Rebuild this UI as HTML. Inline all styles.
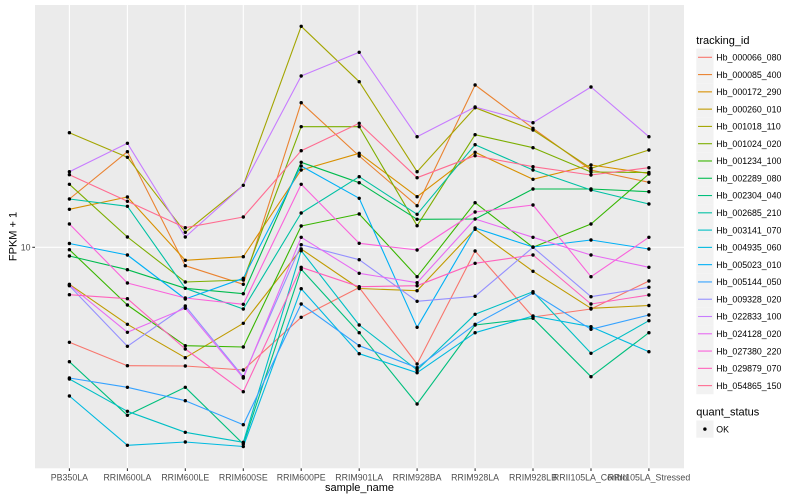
<!DOCTYPE html>
<html>
<head>
<meta charset="utf-8">
<style>
  html,body{margin:0;padding:0;background:#fff;}
  svg{display:block;}
  text{font-family:"Liberation Sans",Arial,sans-serif;}
</style>
</head>
<body>
<svg width="800" height="500" viewBox="0 0 800 500" xmlns="http://www.w3.org/2000/svg">
  <rect x="0" y="0" width="800" height="500" fill="#ffffff"/>
  <!-- panel -->
  <rect x="35" y="5" width="649" height="463.3" fill="#EBEBEB"/>
  <!-- gridlines -->
  <g stroke="#ffffff" stroke-width="1.1">
    <line x1="35" y1="247.3" x2="684" y2="247.3"/>
    <line x1="69.4" y1="5" x2="69.4" y2="468.3"/>
    <line x1="127.4" y1="5" x2="127.4" y2="468.3"/>
    <line x1="185.3" y1="5" x2="185.3" y2="468.3"/>
    <line x1="243.3" y1="5" x2="243.3" y2="468.3"/>
    <line x1="301.2" y1="5" x2="301.2" y2="468.3"/>
    <line x1="359.2" y1="5" x2="359.2" y2="468.3"/>
    <line x1="417.1" y1="5" x2="417.1" y2="468.3"/>
    <line x1="475.1" y1="5" x2="475.1" y2="468.3"/>
    <line x1="533" y1="5" x2="533" y2="468.3"/>
    <line x1="591" y1="5" x2="591" y2="468.3"/>
    <line x1="648.9" y1="5" x2="648.9" y2="468.3"/>
  </g>
  <!-- series lines -->
  <g fill="none" stroke-width="1.1" stroke-linejoin="round">
    <polyline stroke="#F8766D" points="69.4,342.3 127.4,365.7 185.3,366 243.3,370 301.2,317.3 359.2,287.5 417.1,364 475.1,251 533,317 591,309 648.9,281"/>
    <polyline stroke="#EA8331" points="69.4,199 127.4,151.7 185.3,265.7 243.3,284.3 301.2,102.7 359.2,156 417.1,205.7 475.1,85 533,128.3 591,170 648.9,182.3"/>
    <polyline stroke="#D89000" points="69.4,209.3 127.4,197 185.3,260.3 243.3,256.7 301.2,170 359.2,153.3 417.1,196.7 475.1,152.3 533,179.3 591,165 648.9,173.5"/>
    <polyline stroke="#C09B00" points="69.4,284.3 127.4,324.3 185.3,357.7 243.3,323.3 301.2,249 359.2,288.5 417.1,290.7 475.1,229.3 533,271.3 591,308.3 648.9,305.5"/>
    <polyline stroke="#A3A500" points="69.4,132.7 127.4,157.3 185.3,232.3 243.3,185.3 301.2,26.3 359.2,81.7 417.1,171.7 475.1,107.7 533,130 591,168.3 648.9,150"/>
    <polyline stroke="#7CAE00" points="69.4,184.3 127.4,237 185.3,282 243.3,280 301.2,126.7 359.2,126.7 417.1,225.7 475.1,134.7 533,147.7 591,172 648.9,172.5"/>
    <polyline stroke="#39B600" points="69.4,249.7 127.4,305 185.3,345.7 243.3,347 301.2,226 359.2,214 417.1,276.7 475.1,202.7 533,247.3 591,224 648.9,174"/>
    <polyline stroke="#00BB4E" points="69.4,256 127.4,269.7 185.3,288.3 243.3,293.7 301.2,162.3 359.2,182.7 417.1,219.3 475.1,219 533,189 591,189 648.9,191.7"/>
    <polyline stroke="#00BF7D" points="69.4,361.7 127.4,415.3 185.3,387.3 243.3,444 301.2,269.3 359.2,332.7 417.1,404 475.1,325 533,318.3 591,376.7 648.9,332.7"/>
    <polyline stroke="#00C1A3" points="69.4,199 127.4,206.3 185.3,288.3 243.3,309 301.2,213 359.2,176.7 417.1,214.3 475.1,144.7 533,170 591,190 648.9,204"/>
    <polyline stroke="#00BFC4" points="69.4,379 127.4,411.3 185.3,432.3 243.3,442.3 301.2,250.7 359.2,325 417.1,370 475.1,314.3 533,291.7 591,353.3 648.9,320.7"/>
    <polyline stroke="#00BAE0" points="69.4,396 127.4,445.3 185.3,442 243.3,446.5 301.2,288.7 359.2,353.7 417.1,372.7 475.1,332.7 533,316 591,326.7 648.9,351.7"/>
    <polyline stroke="#00B0F6" points="69.4,243.5 127.4,255 185.3,299 243.3,278.3 301.2,166 359.2,198.3 417.1,327.3 475.1,228 533,247 591,240 648.9,249"/>
    <polyline stroke="#35A2FF" points="69.4,378 127.4,387.3 185.3,400.7 243.3,424.7 301.2,304 359.2,345.7 417.1,367.7 475.1,324.3 533,293 591,329.3 648.9,315"/>
    <polyline stroke="#9590FF" points="69.4,285.7 127.4,346.3 185.3,306 243.3,376.7 301.2,244.7 359.2,259.7 417.1,301.3 475.1,296.3 533,247.3 591,296.7 648.9,287.3"/>
    <polyline stroke="#C77CFF" points="69.4,171.7 127.4,143.3 185.3,237 243.3,185.3 301.2,76 359.2,52.3 417.1,136.7 475.1,107 533,122.7 591,87 648.9,136.7"/>
    <polyline stroke="#E76BF3" points="69.4,285 127.4,332.3 185.3,308.3 243.3,378 301.2,237.3 359.2,273.3 417.1,282.7 475.1,219 533,237.3 591,255 648.9,267.3"/>
    <polyline stroke="#FA62DB" points="69.4,224 127.4,283 185.3,298 243.3,304.3 301.2,184.3 359.2,243.3 417.1,250 475.1,212 533,205 591,276.7 648.9,237.3"/>
    <polyline stroke="#FF62BC" points="69.4,294.7 127.4,298.7 185.3,349 243.3,391.7 301.2,267.3 359.2,286.7 417.1,285.7 475.1,263.3 533,255 591,304 648.9,295"/>
    <polyline stroke="#FF6C91" points="69.4,174.7 127.4,201.3 185.3,227.7 243.3,217 301.2,150.7 359.2,123.3 417.1,177.7 475.1,155.7 533,166.7 591,175 648.9,167.7"/>
  </g>
  <!-- points -->
  <g fill="#000000">
    <!-- col1 -->
    <circle cx="69.4" cy="342.3" r="1.7"/><circle cx="69.4" cy="199" r="1.7"/><circle cx="69.4" cy="209.3" r="1.7"/><circle cx="69.4" cy="284.3" r="1.7"/><circle cx="69.4" cy="132.7" r="1.7"/><circle cx="69.4" cy="184.3" r="1.7"/><circle cx="69.4" cy="249.7" r="1.7"/><circle cx="69.4" cy="256" r="1.7"/><circle cx="69.4" cy="361.7" r="1.7"/><circle cx="69.4" cy="379" r="1.7"/><circle cx="69.4" cy="396" r="1.7"/><circle cx="69.4" cy="243.5" r="1.7"/><circle cx="69.4" cy="378" r="1.7"/><circle cx="69.4" cy="285.7" r="1.7"/><circle cx="69.4" cy="171.7" r="1.7"/><circle cx="69.4" cy="285" r="1.7"/><circle cx="69.4" cy="224" r="1.7"/><circle cx="69.4" cy="294.7" r="1.7"/><circle cx="69.4" cy="174.7" r="1.7"/>
    <!-- col2 -->
    <circle cx="127.4" cy="365.7" r="1.7"/><circle cx="127.4" cy="151.7" r="1.7"/><circle cx="127.4" cy="197" r="1.7"/><circle cx="127.4" cy="324.3" r="1.7"/><circle cx="127.4" cy="157.3" r="1.7"/><circle cx="127.4" cy="237" r="1.7"/><circle cx="127.4" cy="305" r="1.7"/><circle cx="127.4" cy="269.7" r="1.7"/><circle cx="127.4" cy="415.3" r="1.7"/><circle cx="127.4" cy="206.3" r="1.7"/><circle cx="127.4" cy="411.3" r="1.7"/><circle cx="127.4" cy="445.3" r="1.7"/><circle cx="127.4" cy="255" r="1.7"/><circle cx="127.4" cy="387.3" r="1.7"/><circle cx="127.4" cy="346.3" r="1.7"/><circle cx="127.4" cy="143.3" r="1.7"/><circle cx="127.4" cy="332.3" r="1.7"/><circle cx="127.4" cy="283" r="1.7"/><circle cx="127.4" cy="298.7" r="1.7"/><circle cx="127.4" cy="201.3" r="1.7"/>
    <!-- col3 -->
    <circle cx="185.3" cy="366" r="1.7"/><circle cx="185.3" cy="265.7" r="1.7"/><circle cx="185.3" cy="260.3" r="1.7"/><circle cx="185.3" cy="357.7" r="1.7"/><circle cx="185.3" cy="232.3" r="1.7"/><circle cx="185.3" cy="282" r="1.7"/><circle cx="185.3" cy="345.7" r="1.7"/><circle cx="185.3" cy="288.3" r="1.7"/><circle cx="185.3" cy="387.3" r="1.7"/><circle cx="185.3" cy="432.3" r="1.7"/><circle cx="185.3" cy="442" r="1.7"/><circle cx="185.3" cy="299" r="1.7"/><circle cx="185.3" cy="400.7" r="1.7"/><circle cx="185.3" cy="306" r="1.7"/><circle cx="185.3" cy="237" r="1.7"/><circle cx="185.3" cy="308.3" r="1.7"/><circle cx="185.3" cy="298" r="1.7"/><circle cx="185.3" cy="349" r="1.7"/><circle cx="185.3" cy="227.7" r="1.7"/>
    <!-- col4 -->
    <circle cx="243.3" cy="370" r="1.7"/><circle cx="243.3" cy="284.3" r="1.7"/><circle cx="243.3" cy="256.7" r="1.7"/><circle cx="243.3" cy="323.3" r="1.7"/><circle cx="243.3" cy="185.3" r="1.7"/><circle cx="243.3" cy="280" r="1.7"/><circle cx="243.3" cy="347" r="1.7"/><circle cx="243.3" cy="293.7" r="1.7"/><circle cx="243.3" cy="444" r="1.7"/><circle cx="243.3" cy="309" r="1.7"/><circle cx="243.3" cy="442.3" r="1.7"/><circle cx="243.3" cy="446.5" r="1.7"/><circle cx="243.3" cy="278.3" r="1.7"/><circle cx="243.3" cy="424.7" r="1.7"/><circle cx="243.3" cy="376.7" r="1.7"/><circle cx="243.3" cy="378" r="1.7"/><circle cx="243.3" cy="304.3" r="1.7"/><circle cx="243.3" cy="391.7" r="1.7"/><circle cx="243.3" cy="217" r="1.7"/>
    <!-- col5 -->
    <circle cx="301.2" cy="317.3" r="1.7"/><circle cx="301.2" cy="102.7" r="1.7"/><circle cx="301.2" cy="170" r="1.7"/><circle cx="301.2" cy="249" r="1.7"/><circle cx="301.2" cy="26.3" r="1.7"/><circle cx="301.2" cy="126.7" r="1.7"/><circle cx="301.2" cy="226" r="1.7"/><circle cx="301.2" cy="162.3" r="1.7"/><circle cx="301.2" cy="269.3" r="1.7"/><circle cx="301.2" cy="213" r="1.7"/><circle cx="301.2" cy="250.7" r="1.7"/><circle cx="301.2" cy="288.7" r="1.7"/><circle cx="301.2" cy="166" r="1.7"/><circle cx="301.2" cy="304" r="1.7"/><circle cx="301.2" cy="244.7" r="1.7"/><circle cx="301.2" cy="76" r="1.7"/><circle cx="301.2" cy="237.3" r="1.7"/><circle cx="301.2" cy="184.3" r="1.7"/><circle cx="301.2" cy="267.3" r="1.7"/><circle cx="301.2" cy="150.7" r="1.7"/>
    <!-- col6 -->
    <circle cx="359.2" cy="287.5" r="1.7"/><circle cx="359.2" cy="156" r="1.7"/><circle cx="359.2" cy="153.3" r="1.7"/><circle cx="359.2" cy="288.5" r="1.7"/><circle cx="359.2" cy="81.7" r="1.7"/><circle cx="359.2" cy="126.7" r="1.7"/><circle cx="359.2" cy="214" r="1.7"/><circle cx="359.2" cy="182.7" r="1.7"/><circle cx="359.2" cy="332.7" r="1.7"/><circle cx="359.2" cy="176.7" r="1.7"/><circle cx="359.2" cy="325" r="1.7"/><circle cx="359.2" cy="353.7" r="1.7"/><circle cx="359.2" cy="198.3" r="1.7"/><circle cx="359.2" cy="345.7" r="1.7"/><circle cx="359.2" cy="259.7" r="1.7"/><circle cx="359.2" cy="52.3" r="1.7"/><circle cx="359.2" cy="273.3" r="1.7"/><circle cx="359.2" cy="243.3" r="1.7"/><circle cx="359.2" cy="286.7" r="1.7"/><circle cx="359.2" cy="123.3" r="1.7"/>
    <!-- col7 -->
    <circle cx="417.1" cy="364" r="1.7"/><circle cx="417.1" cy="205.7" r="1.7"/><circle cx="417.1" cy="196.7" r="1.7"/><circle cx="417.1" cy="290.7" r="1.7"/><circle cx="417.1" cy="171.7" r="1.7"/><circle cx="417.1" cy="225.7" r="1.7"/><circle cx="417.1" cy="276.7" r="1.7"/><circle cx="417.1" cy="219.3" r="1.7"/><circle cx="417.1" cy="404" r="1.7"/><circle cx="417.1" cy="214.3" r="1.7"/><circle cx="417.1" cy="370" r="1.7"/><circle cx="417.1" cy="372.7" r="1.7"/><circle cx="417.1" cy="327.3" r="1.7"/><circle cx="417.1" cy="367.7" r="1.7"/><circle cx="417.1" cy="301.3" r="1.7"/><circle cx="417.1" cy="136.7" r="1.7"/><circle cx="417.1" cy="282.7" r="1.7"/><circle cx="417.1" cy="250" r="1.7"/><circle cx="417.1" cy="285.7" r="1.7"/><circle cx="417.1" cy="177.7" r="1.7"/>
    <!-- col8 -->
    <circle cx="475.1" cy="251" r="1.7"/><circle cx="475.1" cy="85" r="1.7"/><circle cx="475.1" cy="152.3" r="1.7"/><circle cx="475.1" cy="229.3" r="1.7"/><circle cx="475.1" cy="107.7" r="1.7"/><circle cx="475.1" cy="134.7" r="1.7"/><circle cx="475.1" cy="202.7" r="1.7"/><circle cx="475.1" cy="219" r="1.7"/><circle cx="475.1" cy="325" r="1.7"/><circle cx="475.1" cy="144.7" r="1.7"/><circle cx="475.1" cy="314.3" r="1.7"/><circle cx="475.1" cy="332.7" r="1.7"/><circle cx="475.1" cy="228" r="1.7"/><circle cx="475.1" cy="324.3" r="1.7"/><circle cx="475.1" cy="296.3" r="1.7"/><circle cx="475.1" cy="107" r="1.7"/><circle cx="475.1" cy="212" r="1.7"/><circle cx="475.1" cy="263.3" r="1.7"/><circle cx="475.1" cy="155.7" r="1.7"/>
    <!-- col9 -->
    <circle cx="533" cy="317" r="1.7"/><circle cx="533" cy="128.3" r="1.7"/><circle cx="533" cy="179.3" r="1.7"/><circle cx="533" cy="271.3" r="1.7"/><circle cx="533" cy="130" r="1.7"/><circle cx="533" cy="147.7" r="1.7"/><circle cx="533" cy="247.3" r="1.7"/><circle cx="533" cy="189" r="1.7"/><circle cx="533" cy="318.3" r="1.7"/><circle cx="533" cy="170" r="1.7"/><circle cx="533" cy="291.7" r="1.7"/><circle cx="533" cy="316" r="1.7"/><circle cx="533" cy="247" r="1.7"/><circle cx="533" cy="293" r="1.7"/><circle cx="533" cy="122.7" r="1.7"/><circle cx="533" cy="237.3" r="1.7"/><circle cx="533" cy="205" r="1.7"/><circle cx="533" cy="255" r="1.7"/><circle cx="533" cy="166.7" r="1.7"/>
    <!-- col10 -->
    <circle cx="591" cy="309" r="1.7"/><circle cx="591" cy="170" r="1.7"/><circle cx="591" cy="165" r="1.7"/><circle cx="591" cy="308.3" r="1.7"/><circle cx="591" cy="168.3" r="1.7"/><circle cx="591" cy="172" r="1.7"/><circle cx="591" cy="224" r="1.7"/><circle cx="591" cy="189" r="1.7"/><circle cx="591" cy="376.7" r="1.7"/><circle cx="591" cy="190" r="1.7"/><circle cx="591" cy="353.3" r="1.7"/><circle cx="591" cy="326.7" r="1.7"/><circle cx="591" cy="240" r="1.7"/><circle cx="591" cy="329.3" r="1.7"/><circle cx="591" cy="296.7" r="1.7"/><circle cx="591" cy="87" r="1.7"/><circle cx="591" cy="255" r="1.7"/><circle cx="591" cy="276.7" r="1.7"/><circle cx="591" cy="304" r="1.7"/><circle cx="591" cy="175" r="1.7"/>
    <!-- col11 -->
    <circle cx="648.9" cy="281" r="1.7"/><circle cx="648.9" cy="182.3" r="1.7"/><circle cx="648.9" cy="173.5" r="1.7"/><circle cx="648.9" cy="305.5" r="1.7"/><circle cx="648.9" cy="150" r="1.7"/><circle cx="648.9" cy="172.5" r="1.7"/><circle cx="648.9" cy="174" r="1.7"/><circle cx="648.9" cy="191.7" r="1.7"/><circle cx="648.9" cy="332.7" r="1.7"/><circle cx="648.9" cy="204" r="1.7"/><circle cx="648.9" cy="320.7" r="1.7"/><circle cx="648.9" cy="351.7" r="1.7"/><circle cx="648.9" cy="249" r="1.7"/><circle cx="648.9" cy="315" r="1.7"/><circle cx="648.9" cy="287.3" r="1.7"/><circle cx="648.9" cy="136.7" r="1.7"/><circle cx="648.9" cy="267.3" r="1.7"/><circle cx="648.9" cy="237.3" r="1.7"/><circle cx="648.9" cy="295" r="1.7"/><circle cx="648.9" cy="167.7" r="1.7"/>
  </g>
  <!-- axis ticks -->
  <g stroke="#333333" stroke-width="1.07">
    <line x1="32.3" y1="247.3" x2="35" y2="247.3"/>
    <line x1="69.4" y1="468.3" x2="69.4" y2="471"/>
    <line x1="127.4" y1="468.3" x2="127.4" y2="471"/>
    <line x1="185.3" y1="468.3" x2="185.3" y2="471"/>
    <line x1="243.3" y1="468.3" x2="243.3" y2="471"/>
    <line x1="301.2" y1="468.3" x2="301.2" y2="471"/>
    <line x1="359.2" y1="468.3" x2="359.2" y2="471"/>
    <line x1="417.1" y1="468.3" x2="417.1" y2="471"/>
    <line x1="475.1" y1="468.3" x2="475.1" y2="471"/>
    <line x1="533" y1="468.3" x2="533" y2="471"/>
    <line x1="591" y1="468.3" x2="591" y2="471"/>
    <line x1="648.9" y1="468.3" x2="648.9" y2="471"/>
  </g>
  <!-- axis tick labels -->
  <g fill="#4D4D4D" font-size="8.8">
    <text x="30.5" y="250.5" text-anchor="end">10</text>
    <g text-anchor="middle">
      <text x="69.4" y="480.5">PB350LA</text>
      <text x="127.4" y="480.5">RRIM600LA</text>
      <text x="185.3" y="480.5">RRIM600LE</text>
      <text x="243.3" y="480.5">RRIM600SE</text>
      <text x="301.2" y="480.5">RRIM600PE</text>
      <text x="359.2" y="480.5">RRIM901LA</text>
      <text x="417.1" y="480.5">RRIM928BA</text>
      <text x="475.1" y="480.5">RRIM928LA</text>
      <text x="533" y="480.5">RRIM928LB</text>
      <text x="591" y="480.5">RRII105LA_Control</text>
      <text x="648.9" y="480.5">RRII105LA_Stressed</text>
    </g>
  </g>
  <!-- axis titles -->
  <text x="359.5" y="491" font-size="11" fill="#000" text-anchor="middle">sample_name</text>
  <text transform="translate(16.5,236.5) rotate(-90)" font-size="11" fill="#000" text-anchor="middle">FPKM + 1</text>

  <!-- legend: tracking_id -->
  <text x="696.3" y="44" font-size="11" fill="#000">tracking_id</text>
  <g fill="#F2F2F2">
    <rect x="696.3" y="48.66" width="17.28" height="17.28"/>
    <rect x="696.3" y="65.94" width="17.28" height="17.28"/>
    <rect x="696.3" y="83.22" width="17.28" height="17.28"/>
    <rect x="696.3" y="100.5" width="17.28" height="17.28"/>
    <rect x="696.3" y="117.78" width="17.28" height="17.28"/>
    <rect x="696.3" y="135.06" width="17.28" height="17.28"/>
    <rect x="696.3" y="152.34" width="17.28" height="17.28"/>
    <rect x="696.3" y="169.62" width="17.28" height="17.28"/>
    <rect x="696.3" y="186.9" width="17.28" height="17.28"/>
    <rect x="696.3" y="204.18" width="17.28" height="17.28"/>
    <rect x="696.3" y="221.46" width="17.28" height="17.28"/>
    <rect x="696.3" y="238.74" width="17.28" height="17.28"/>
    <rect x="696.3" y="256.02" width="17.28" height="17.28"/>
    <rect x="696.3" y="273.3" width="17.28" height="17.28"/>
    <rect x="696.3" y="290.58" width="17.28" height="17.28"/>
    <rect x="696.3" y="307.86" width="17.28" height="17.28"/>
    <rect x="696.3" y="325.14" width="17.28" height="17.28"/>
    <rect x="696.3" y="342.42" width="17.28" height="17.28"/>
    <rect x="696.3" y="359.7" width="17.28" height="17.28"/>
    <rect x="696.3" y="376.98" width="17.28" height="17.28"/>
  </g>
  <g stroke-width="1.1">
    <line x1="698" x2="712" y1="57.3" y2="57.3" stroke="#F8766D"/>
    <line x1="698" x2="712" y1="74.58" y2="74.58" stroke="#EA8331"/>
    <line x1="698" x2="712" y1="91.86" y2="91.86" stroke="#D89000"/>
    <line x1="698" x2="712" y1="109.14" y2="109.14" stroke="#C09B00"/>
    <line x1="698" x2="712" y1="126.42" y2="126.42" stroke="#A3A500"/>
    <line x1="698" x2="712" y1="143.7" y2="143.7" stroke="#7CAE00"/>
    <line x1="698" x2="712" y1="160.98" y2="160.98" stroke="#39B600"/>
    <line x1="698" x2="712" y1="178.26" y2="178.26" stroke="#00BB4E"/>
    <line x1="698" x2="712" y1="195.54" y2="195.54" stroke="#00BF7D"/>
    <line x1="698" x2="712" y1="212.82" y2="212.82" stroke="#00C1A3"/>
    <line x1="698" x2="712" y1="230.1" y2="230.1" stroke="#00BFC4"/>
    <line x1="698" x2="712" y1="247.38" y2="247.38" stroke="#00BAE0"/>
    <line x1="698" x2="712" y1="264.66" y2="264.66" stroke="#00B0F6"/>
    <line x1="698" x2="712" y1="281.94" y2="281.94" stroke="#35A2FF"/>
    <line x1="698" x2="712" y1="299.22" y2="299.22" stroke="#9590FF"/>
    <line x1="698" x2="712" y1="316.5" y2="316.5" stroke="#C77CFF"/>
    <line x1="698" x2="712" y1="333.78" y2="333.78" stroke="#E76BF3"/>
    <line x1="698" x2="712" y1="351.06" y2="351.06" stroke="#FA62DB"/>
    <line x1="698" x2="712" y1="368.34" y2="368.34" stroke="#FF62BC"/>
    <line x1="698" x2="712" y1="385.62" y2="385.62" stroke="#FF6C91"/>
  </g>
  <g font-size="8.8" fill="#000">
    <text x="716.3" y="60.5">Hb_000066_080</text>
    <text x="716.3" y="77.78">Hb_000085_400</text>
    <text x="716.3" y="95.06">Hb_000172_290</text>
    <text x="716.3" y="112.34">Hb_000260_010</text>
    <text x="716.3" y="129.62">Hb_001018_110</text>
    <text x="716.3" y="146.9">Hb_001024_020</text>
    <text x="716.3" y="164.18">Hb_001234_100</text>
    <text x="716.3" y="181.46">Hb_002289_080</text>
    <text x="716.3" y="198.74">Hb_002304_040</text>
    <text x="716.3" y="216.02">Hb_002685_210</text>
    <text x="716.3" y="233.3">Hb_003141_070</text>
    <text x="716.3" y="250.58">Hb_004935_060</text>
    <text x="716.3" y="267.86">Hb_005023_010</text>
    <text x="716.3" y="285.14">Hb_005144_050</text>
    <text x="716.3" y="302.42">Hb_009328_020</text>
    <text x="716.3" y="319.7">Hb_022833_100</text>
    <text x="716.3" y="336.98">Hb_024128_020</text>
    <text x="716.3" y="354.26">Hb_027380_220</text>
    <text x="716.3" y="371.54">Hb_029879_070</text>
    <text x="716.3" y="388.82">Hb_054865_150</text>
  </g>

  <!-- legend: quant_status -->
  <text x="696.3" y="415.5" font-size="11" fill="#000">quant_status</text>
  <rect x="696.3" y="420.4" width="17.28" height="17.28" fill="#F2F2F2"/>
  <circle cx="704.9" cy="429.1" r="1.7" fill="#000"/>
  <text x="716.3" y="432.3" font-size="8.8" fill="#000">OK</text>
</svg>
</body>
</html>
